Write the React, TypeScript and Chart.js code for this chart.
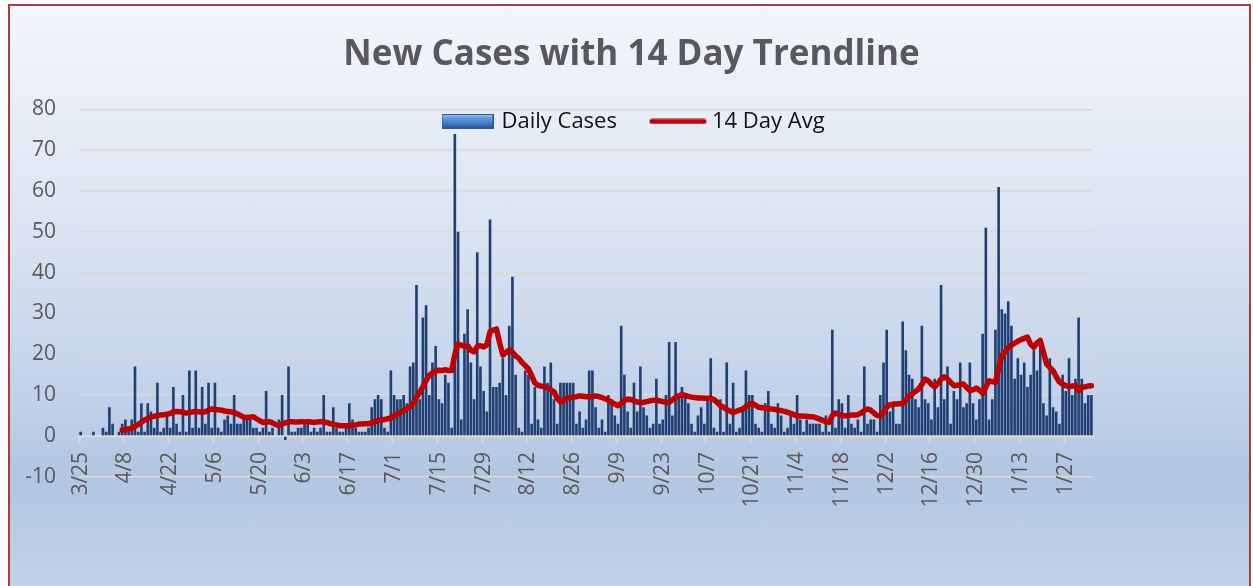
import React, { useEffect, useRef } from 'react';
import { Chart, registerables } from 'chart.js';

Chart.register(...registerables);

// ---- data ----
const START_YEAR = 2020;
const START_MONTH = 3; // March
const START_DAY = 25;

const TICK_LABELS = [
  '3/25', '4/8', '4/22', '5/6', '5/20', '6/3', '6/17', '7/1', '7/15', '7/29', '8/12', '8/26',
  '9/9', '9/23', '10/7', '10/21', '11/4', '11/18', '12/2', '12/16', '12/30', '1/13', '1/27',
];

const DAILY_CASES = [
  1, 0, 0, 0, 1, 0, 0, 2, 1, 7, 3, 0, 1, 3,
  4, 2, 4, 17, 1, 8, 1, 8, 6, 2, 13, 1, 2, 5,
  2, 12, 3, 1, 10, 1, 16, 2, 16, 2, 12, 3, 13, 2,
  13, 2, 1, 4, 5, 3, 10, 3, 3, 4, 4, 4, 2, 2,
  1, 2, 11, 1, 2, 0, 4, 10, -1, 17, 1, 1, 2, 2,
  3, 3, 1, 2, 1, 2, 10, 1, 1, 7, 2, 1, 1, 2,
  8, 4, 2, 1, 1, 1, 2, 7, 9, 10, 9, 2, 1, 16,
  10, 9, 9, 10, 8, 17, 18, 37, 9, 29, 32, 10, 18, 22,
  9, 8, 15, 13, 2, 74, 50, 4, 25, 31, 18, 9, 45, 17,
  11, 6, 53, 12, 12, 13, 19, 10, 27, 39, 15, 2, 1, 16,
  15, 3, 12, 4, 2, 17, 13, 18, 9, 3, 13, 13, 13, 13,
  13, 3, 6, 2, 4, 16, 16, 7, 2, 4, 1, 10, 9, 5,
  3, 27, 15, 6, 2, 13, 6, 17, 7, 5, 2, 3, 14, 3,
  4, 10, 23, 5, 23, 10, 12, 10, 8, 3, 1, 5, 7, 3,
  9, 19, 2, 1, 9, 1, 18, 3, 13, 1, 2, 7, 16, 10,
  10, 3, 2, 1, 8, 11, 3, 2, 8, 5, 1, 2, 6, 3,
  10, 4, 1, 4, 3, 3, 3, 3, 1, 5, 1, 26, 2, 9,
  8, 2, 10, 3, 2, 4, 1, 17, 3, 4, 4, 1, 10, 18,
  26, 6, 8, 3, 3, 28, 21, 15, 14, 9, 7, 27, 9, 8,
  4, 14, 7, 37, 9, 17, 3, 11, 9, 18, 7, 8, 18, 8,
  4, 9, 25, 51, 4, 9, 26, 61, 31, 30, 33, 27, 14, 19,
  15, 18, 12, 15, 21, 16, 23, 8, 5, 19, 7, 6, 3, 15,
  11, 19, 10, 14, 29, 14, 8, 10, 10,
];

const AVG_14_DAY = [
  null, null, null, null, null, null, null, null, null, null, null, null, null, 1.4,
  1.5, 1.7, 1.9, 2.3, 2.8, 3.3, 3.9, 4.3, 4.6, 4.8, 5.0, 5.1, 5.2, 5.3,
  5.5, 5.9, 6.0, 5.9, 5.8, 5.6, 5.7, 5.9, 6.0, 5.9, 5.8, 5.9, 6.3, 6.6,
  6.5, 6.4, 6.3, 6.1, 6.0, 5.9, 5.7, 5.4, 5.0, 4.6, 4.5, 4.6, 4.7, 4.2,
  3.7, 3.3, 3.4, 3.5, 3.2, 2.8, 2.5, 2.9, 3.2, 3.4, 3.5, 3.4, 3.4, 3.5,
  3.4, 3.5, 3.4, 3.3, 3.4, 3.5, 3.4, 3.3, 3.0, 2.8, 2.7, 2.5, 2.5, 2.5,
  2.5, 2.6, 2.7, 2.9, 2.9, 3.0, 3.0, 3.2, 3.5, 3.8, 3.9, 4.0, 4.2, 4.4,
  4.9, 5.4, 5.8, 6.2, 6.7, 7.1, 8.0, 9.4, 10.7, 12.1, 13.6, 14.8, 15.5, 15.9,
  16.1, 16.0, 16.2, 16.0, 16.0, 20.0, 22.5, 22.2, 22.0, 22.1, 21.0, 20.6, 21.9, 22.1,
  21.8, 22.3, 25.5, 25.9, 26.2, 22.8, 19.8, 20.4, 21.1, 20.5, 19.6, 19.0, 18.0, 17.2,
  16.4, 14.8, 13.0, 12.4, 12.2, 12.0, 11.8, 11.3, 10.8, 9.2, 8.3, 8.8, 9.2, 9.4,
  9.5, 9.6, 9.8, 9.7, 9.6, 9.6, 9.6, 9.8, 9.6, 9.4, 9.1, 8.7, 8.2, 7.8,
  7.4, 8.0, 8.7, 9.0, 8.9, 8.6, 8.3, 8.2, 8.2, 8.4, 8.6, 8.7, 8.8, 8.6,
  8.4, 8.2, 8.2, 8.8, 9.4, 9.8, 10.1, 9.9, 9.7, 9.5, 9.4, 9.3, 9.3, 9.2,
  9.2, 9.2, 8.9, 8.2, 7.4, 7.0, 6.5, 6.1, 5.7, 6.0, 6.3, 6.6, 7.2, 7.7,
  8.0, 7.5, 7.0, 6.9, 6.8, 6.7, 6.6, 6.5, 6.3, 6.2, 6.0, 5.8, 5.5, 5.2,
  4.9, 4.9, 4.8, 4.8, 4.7, 4.7, 4.4, 4.1, 3.8, 3.5, 3.3, 5.0, 5.6, 5.3,
  5.0, 4.9, 5.0, 5.1, 5.1, 5.2, 5.6, 6.2, 6.6, 6.3, 5.6, 5.0, 4.9, 5.8,
  7.0, 7.6, 7.8, 7.8, 7.9, 8.0, 8.8, 9.8, 10.3, 10.9, 11.5, 12.6, 13.9, 13.5,
  12.6, 12.0, 12.8, 13.9, 14.5, 14.0, 13.1, 12.3, 12.4, 12.6, 12.7, 11.9, 11.1, 11.3,
  11.7, 11.2, 10.4, 12.0, 13.5, 13.3, 13.1, 16.5, 19.7, 20.6, 21.7, 22.2, 22.7, 23.2,
  23.6, 23.9, 24.2, 22.5, 21.7, 22.8, 23.4, 20.5, 17.6, 16.8, 16.0, 14.5, 13.2, 12.7,
  12.3, 12.0, 12.2, 12.3, 11.1, 12.0, 12.0, 12.2, 12.3,
];

const SERIES_NAMES = ['Daily Cases', '14 Day Avg'];
const TITLE = 'New Cases with 14 Day Trendline';

function buildCategories(n: number): string[] {
  const out: string[] = [];
  for (let i = 0; i < n; i++) {
    const d = new Date(START_YEAR, START_MONTH - 1, START_DAY + i);
    out.push(`${d.getMonth() + 1}/${d.getDate()}`);
  }
  return out;
}

const CATEGORIES = buildCategories(DAILY_CASES.length);

const FONT = 'Open Sans';
const GREY = '#595959';

function makeBarSwatch(): HTMLCanvasElement {
  const c = document.createElement('canvas');
  c.width = 52;
  c.height = 15;
  const g = c.getContext('2d')!;
  const grad = g.createLinearGradient(0, 0, 0, 15);
  grad.addColorStop(0, '#a6cdf4');
  grad.addColorStop(0.3, '#5e98da');
  grad.addColorStop(0.75, '#3a70b6');
  grad.addColorStop(1, '#1f4a86');
  g.fillStyle = grad;
  g.fillRect(0, 0, 52, 15);
  g.strokeStyle = '#2b5796';
  g.lineWidth = 1;
  g.strokeRect(0.5, 0.5, 51, 14);
  return c;
}

function makeLineSwatch(): HTMLCanvasElement {
  const c = document.createElement('canvas');
  c.width = 58;
  c.height = 6;
  const g = c.getContext('2d')!;
  g.strokeStyle = '#c00000';
  g.lineWidth = 5;
  g.lineCap = 'round';
  g.beginPath();
  g.moveTo(3, 3);
  g.lineTo(55, 3);
  g.stroke();
  return c;
}

const placeBoxes = {
  id: 'placeBoxes',
  afterLayout(chart: any) {
    const t = chart.titleBlock;
    if (t) {
      t.left = 0;
      t.right = 1263;
      t.width = 1263;
      const h = t.height;
      t.top = 37.5;
      t.bottom = t.top + h;
    }
    const l = chart.legend;
    if (l) {
      const w = l.width;
      const h = l.height;
      l.left = 444.5 - 38;
      l.right = l.left + w;
      l.top = 72.4;
      l.bottom = l.top + h;
    }
  },
};

export default function App() {
  const ref = useRef<HTMLCanvasElement | null>(null);

  useEffect(() => {
    if (!ref.current) return;
    const barSwatch = makeBarSwatch();
    const lineSwatch = makeLineSwatch();

    const chart = new Chart(ref.current, {
      type: 'bar',
      data: {
        labels: CATEGORIES,
        datasets: [
          {
            type: 'bar',
            label: SERIES_NAMES[0],
            data: DAILY_CASES,
            backgroundColor: '#203f72',
            borderWidth: 0,
            barPercentage: 0.82,
            categoryPercentage: 1,
            order: 1,
          } as any,
          {
            type: 'line',
            label: SERIES_NAMES[1],
            data: AVG_14_DAY,
            borderColor: '#c00000',
            backgroundColor: '#c00000',
            borderWidth: 5.5,
            pointRadius: 0,
            tension: 0,
            borderJoinStyle: 'round',
            borderCapStyle: 'round',
            fill: false,
            order: 0,
          } as any,
        ],
      },
      options: {
        responsive: false,
        animation: false,
        devicePixelRatio: 1,
        layout: { padding: { left: 0, right: 160, top: 0, bottom: 109.3 } },
        plugins: {
          tooltip: { enabled: false },
          title: {
            display: true,
            text: TITLE,
            color: GREY,
            font: { family: FONT, size: 35, weight: 'bold', lineHeight: 1 },
            padding: { top: 0, bottom: 4.4 },
          },
          legend: {
            display: true,
            position: 'top',
            align: 'start',
            labels: {
              usePointStyle: true,
              pointStyleWidth: 46,
              padding: 38,
              color: '#111111',
              font: { family: FONT, size: 22 },
              generateLabels: () => [
                {
                  text: SERIES_NAMES[0],
                  pointStyle: barSwatch,
                  fillStyle: '#3a70b6',
                  strokeStyle: '#2b5796',
                  lineWidth: 0,
                  hidden: false,
                  datasetIndex: 0,
                  fontColor: '#111111',
                } as any,
                {
                  text: SERIES_NAMES[1],
                  pointStyle: lineSwatch,
                  fillStyle: '#c00000',
                  strokeStyle: '#c00000',
                  lineWidth: 0,
                  hidden: false,
                  datasetIndex: 1,
                  fontColor: '#111111',
                } as any,
              ],
            },
          },
        },
        scales: {
          x: {
            type: 'category',
            position: { y: 0 } as any,
            offset: true,
            grid: {
              display: true,
              drawOnChartArea: false,
              drawTicks: true,
              offset: true,
              tickLength: 6,
              tickWidth: 2,
              color: 'rgba(0,0,0,0)',
              tickColor: (c: any) =>
                TICK_LABELS.includes(CATEGORIES[c.index]) ? '#d9d9d9' : 'rgba(0,0,0,0)',
            },
            border: { display: true, color: '#d9d9d9', width: 2.5 },
            ticks: {
              autoSkip: false,
              maxRotation: 90,
              minRotation: 90,
              padding: 10,
              color: GREY,
              font: { family: FONT, size: 21 },
              callback: (_v: any, i: number) =>
                TICK_LABELS.includes(CATEGORIES[i]) ? CATEGORIES[i] : '',
            },
          },
          y: {
            min: -10,
            max: 80,
            ticks: {
              stepSize: 10,
              color: GREY,
              padding: 23,
              font: { family: FONT, size: 21 },
            },
            grid: { color: '#dcd8d4', lineWidth: 1.5, drawTicks: false },
            border: { display: false },
            afterFit: (s: any) => {
              s.width = 79;
            },
          },
        },
      },
      plugins: [placeBoxes],
    });

    let alive = true;
    if ((document as any).fonts && (document as any).fonts.ready) {
      (document as any).fonts.ready.then(() => {
        if (alive) chart.update();
      });
    }

    return () => {
      alive = false;
      chart.destroy();
    };
  }, []);

  return (
    <div style={{ position: 'fixed', left: 0, top: 0, width: 1253, height: 586, overflow: 'hidden' }}>
      <div
        style={{
          position: 'absolute',
          left: 8,
          top: 4,
          width: 1239,
          height: 620,
          border: '2px solid #a63f3b',
          background:
            'linear-gradient(to bottom, #f3f6fb 0%, #dfe7f3 30%, #c6d5eb 58%, #b2c6e2 76%, #bccde6 88%, #c8d7ec 100%)',
        }}
      />
      <canvas
        ref={ref}
        width={1253}
        height={586}
        style={{ position: 'absolute', left: 0, top: 0, width: 1253, height: 586 }}
      />
    </div>
  );
}
